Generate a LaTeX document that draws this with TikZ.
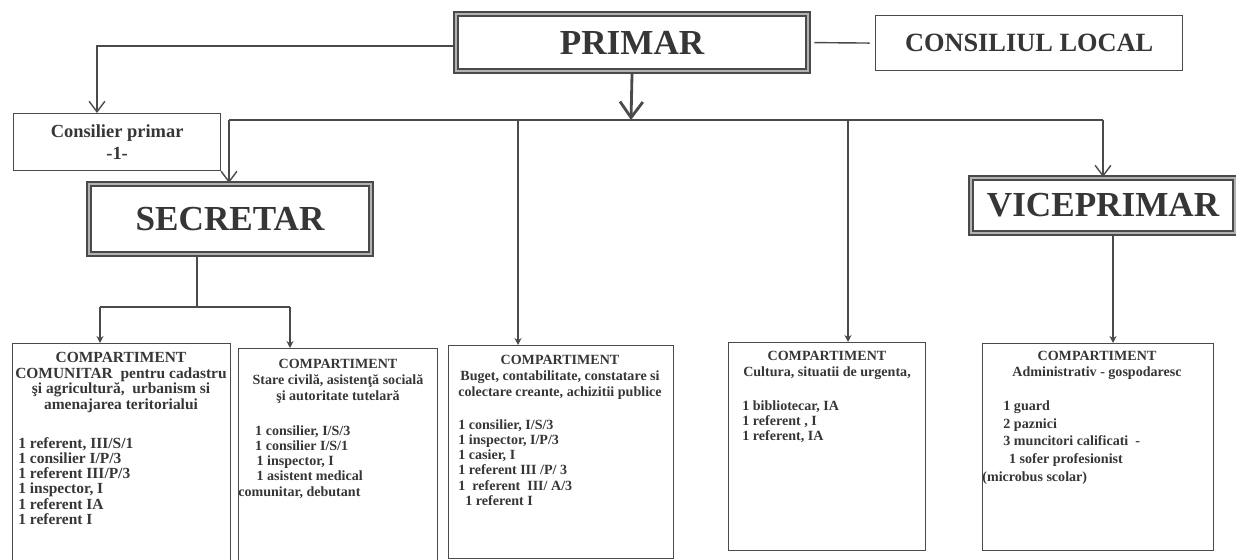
\documentclass[tikz,border=0pt]{standalone}
\usepackage{fontspec}
\setmainfont{Liberation Serif}
\usetikzlibrary{arrows.meta,positioning}

\definecolor{ink}{HTML}{363636}
\definecolor{frame}{HTML}{4A4A4A}
\newcommand\pxu{0.02cm}

\tikzset{
  chief/.style = {draw=frame, line width=1.2pt, double=black!30, double distance=0.8pt, inner sep=0,
                  anchor=north west, text=ink, font=\bfseries\fontsize{20}{22}\selectfont},
  box/.style   = {draw=frame, line width=0.7pt, inner sep=0, anchor=north west, text=ink},
  dept/.style  = {draw=frame, line width=0.8pt, inner sep=0, anchor=north west},
  hdr/.style   = {align=center, inner sep=0, anchor=north, text=ink, font=\bfseries\fontsize{8}{9}\selectfont},
  lst/.style   = {align=left, inner sep=0, anchor=north west, text=ink, font=\bfseries\fontsize{8}{8.7}\selectfont},
  wire/.style  = {draw=frame, line width=0.8pt},
  barb/.style  = {wire, -{Straight Barb[length=6pt,width=9pt]}},
  tip/.style   = {wire, -{Stealth[length=4pt,width=4pt]}},
}

\begin{document}
\begin{tikzpicture}[x=\pxu, y=-\pxu]
  \clip (0,0) rectangle (1236,560);

  % top
  \node[chief, minimum width=352*\pxu, minimum height=57*\pxu] (primar) at (455,13) {PRIMAR};
  \node[box, minimum width=307*\pxu, minimum height=55*\pxu, font=\bfseries\fontsize{15}{17}\selectfont] (consiliu) at (875,15) {CONSILIUL LOCAL};
  \node[box, minimum width=207*\pxu, minimum height=57*\pxu, align=center, font=\bfseries\fontsize{10.5}{12.5}\selectfont] (consilier) at (13,113) {Consilier primar\\-1-};

  % middle
  \node[chief, minimum width=282*\pxu, minimum height=70*\pxu] (secretar) at (88,183) {SECRETAR};
  \node[chief, minimum width=264*\pxu, minimum height=55*\pxu] (vice) at (970,177) {VICEPRIMAR};

  % compartments
  \node[dept, minimum width=218*\pxu, minimum height=230*\pxu] (b1) at (12,343) {};
  \node[dept, minimum width=199*\pxu, minimum height=225*\pxu] (b2) at (238,348) {};
  \node[dept, minimum width=225*\pxu, minimum height=213*\pxu] (b3) at (448,345) {};
  \node[dept, minimum width=197*\pxu, minimum height=208*\pxu] (b4) at (728,342) {};
  \node[dept, minimum width=231*\pxu, minimum height=207*\pxu] (b5) at (982,343) {};

  \node[hdr, font=\bfseries\fontsize{8.8}{8.9}\selectfont] (b1h) at (121,352)
    {COMPARTIMENT\\COMUNITAR\ \ pentru cadastru\\şi agricultură,\ \ urbanism si\\amenajarea teritorialui};
  \node[lst, font=\bfseries\fontsize{8.8}{8.65}\selectfont] (b1l) at (18,437)
    {1 referent, III/S/1\\1 consilier I/P/3\\1 referent III/P/3\\1 inspector, I\\1 referent IA\\1 referent I};

  \node[hdr] (b2h) at (338,359) {COMPARTIMENT\\Stare civilă, asistenţă socială\\şi autoritate tutelară};
  \node[lst] (b2l) at (238,425)
    {\hspace*{1.2em}1 consilier, I/S/3\\\hspace*{1.2em}1 consilier I/S/1\\\hspace*{1.3em}1 inspector, I\\\hspace*{1.3em}1 asistent medical\\comunitar, debutant};

  \node[hdr] (b3h) at (560,355) {COMPARTIMENT\\Buget, contabilitate, constatare si\\colectare creante, achizitii publice};
  \node[lst] (b3l) at (458,419)
    {1 consilier, I/S/3\\1 inspector, I/P/3\\1 casier, I\\1 referent III /P/ 3\\1\ \ referent\ \ III/ A/3\\\hspace*{0.5em}1 referent I};

  \node[hdr] (b4h) at (827,351) {COMPARTIMENT\\Cultura, situatii de urgenta,};
  \node[lst] (b4l) at (742,400) {1 bibliotecar, IA\\1 referent , I\\1 referent, IA};

  \node[hdr] (b5h) at (1097,351) {COMPARTIMENT\\Administrativ - gospodaresc};
  \node[lst, font=\bfseries\fontsize{8}{10.2}\selectfont] (b5l) at (982,400)
    {\hspace*{1.5em}1 guard\\\hspace*{1.5em}2 paznici\\\hspace*{1.5em}3 muncitori calificati\ \ -\\\hspace*{1.9em}1 sofer profesionist\\(microbus scolar)};

  % connectors
  \coordinate (cfork) at (97,46);
  \coordinate (hub) at (631,120);
  \coordinate (busL) at (229,120);
  \coordinate (busR) at (1103,120);
  \coordinate (d3) at (518,120);
  \coordinate (d4) at (848,120);
  \coordinate (split) at (197,307);
  \coordinate (s1) at (100,307);
  \coordinate (s2) at (290,307);
  \coordinate (vdrop) at (1113,300);

  \draw[barb] (primar.west |- cfork) -| (cfork |- consilier.north);
  \draw[wire, shorten <=3pt, shorten >=3pt] (primar.east) -- (consiliu.west);
  \draw[wire, line width=1.6pt, -{Straight Barb[length=9pt,width=13pt]}] (primar.south) -- (hub);
  \draw[wire, line width=1.1pt] (busL) -- (busR);
  \draw[barb] (busL) -- (busL |- secretar.north);
  \draw[tip] (d3) -- (d3 |- b3.north);
  \draw[tip] (d4) -- (d4 |- b4.north);
  \draw[barb] (busR) -- (busR |- vice.north);
  \draw[wire, line width=1.1pt] (split |- secretar.south) -- (split);
  \draw[wire] (s1) -- (s2);
  \draw[tip] (s1) -- (s1 |- b1.north);
  \draw[tip] (s2) -- (s2 |- b2.north);
  \draw[tip] (vdrop |- vice.south) -- (vdrop |- b5.north);
\end{tikzpicture}
\end{document}
